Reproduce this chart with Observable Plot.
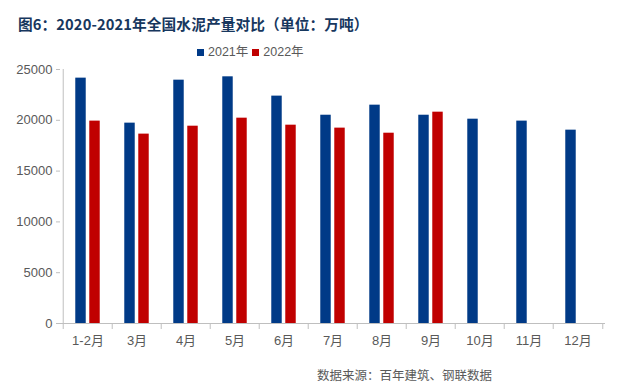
<!DOCTYPE html>
<html>
<head>
<meta charset="utf-8">
<script src="https://cdn.jsdelivr.net/npm/d3@7"></script>
<script src="https://cdn.jsdelivr.net/npm/@observablehq/plot@0.6"></script>
<style>
  html, body { margin: 0; padding: 0; background: #fff; }
  #wrap { position: relative; width: 626px; height: 391px; overflow: hidden;
          font-family: "Liberation Sans", "Noto Sans CJK SC", sans-serif; }
  #title { position: absolute; left: 18px; top: 17px; font-size: 14.7px; line-height: 1; letter-spacing: 0.1px;
           font-weight: bold; color: #17375E; font-family: "Noto Sans CJK SC", sans-serif; white-space: nowrap; }
  #legend { position: absolute; left: 197px; top: 45px; font-size: 12.5px; line-height: 15px;
            color: #595959; white-space: nowrap; display: flex; align-items: center; }
  #legend .sw { display: inline-block; width: 7px; height: 7px; margin-right: 4px; }
  #legend .item { display: flex; align-items: center; margin-right: 4px; }
  #chart { position: absolute; left: 0; top: 55px; }
  #caption { position: absolute; right: 134px; top: 369px; font-size: 12.5px; line-height: 1;
             color: #595959; font-family: "Noto Sans CJK SC", sans-serif; white-space: nowrap; }
</style>
</head>
<body>
<div id="wrap">
  <div id="title">图6：2020-2021年全国水泥产量对比（单位：万吨）</div>
  <div id="legend"></div>
  <div id="chart"></div>
  <div id="caption">数据来源：百年建筑、钢联数据</div>
</div>
<script>
const months = ["1-2月","3月","4月","5月","6月","7月","8月","9月","10月","11月","12月"];
const series = ["2021年", "2022年"];
const values2021 = [24150, 19720, 23950, 24280, 22380, 20500, 21490, 20500, 20110, 19920, 19030];
const values2022 = [19920, 18640, 19420, 20210, 19520, 19230, 18730, 20800];
const yTicks = [0, 5000, 10000, 15000, 20000, 25000];
const colors = ["#003A87", "#C00000"];

const d2021 = values2021.map((v, i) => ({month: months[i], value: v}));
const d2022 = values2022.map((v, i) => ({month: months[i], value: v}));

// legend
const legend = document.getElementById("legend");
series.forEach((s, i) => {
  const item = document.createElement("span");
  item.className = "item";
  item.innerHTML = `<span class="sw" style="background:${colors[i]}"></span>${s}`;
  legend.appendChild(item);
});

const W = 626, H = 300, mL = 60, mR = 21;
const bw = (W - mL - mR) / months.length;
const barW = 11, gap = 3;
const axisGray = "#bfbfbf";

const chart = Plot.plot({
  width: W, height: H,
  marginLeft: mL, marginRight: mR, marginTop: 14, marginBottom: 32,
  style: {fontFamily: "'Liberation Sans', 'Noto Sans CJK SC', sans-serif", fontSize: "13px", color: "#595959", background: "transparent"},
  x: {domain: months, padding: 0},
  y: {domain: [0, 25000]},
  marks: [
    Plot.barY(d2021, {x: "month", y: "value", fill: colors[0],
      insetLeft: bw / 2 - gap / 2 - barW, insetRight: bw / 2 + gap / 2}),
    Plot.barY(d2022, {x: "month", y: "value", fill: colors[1],
      insetLeft: bw / 2 + gap / 2, insetRight: bw / 2 - gap / 2 - barW}),
    Plot.ruleY([0], {stroke: axisGray}),
    Plot.ruleX([months[0]], {dx: -bw / 2, stroke: axisGray}),
    Plot.axisY({ticks: yTicks, tickSize: 4, tickPadding: 4, stroke: axisGray, fill: "#595959",
      tickFormat: d => String(d), fontSize: 13, label: null}),
    Plot.axisX({tickSize: 0, tickPadding: 12, fill: "#595959", fontSize: 13, label: null}),
    Plot.axisX({tickSize: 6, dx: -bw / 2, tickFormat: () => "", stroke: axisGray, label: null}),
    Plot.axisX({ticks: [months[months.length - 1]], tickSize: 6, dx: bw / 2, tickFormat: () => "", stroke: axisGray, label: null})
  ]
});
document.getElementById("chart").appendChild(chart);
</script>
</body>
</html>
